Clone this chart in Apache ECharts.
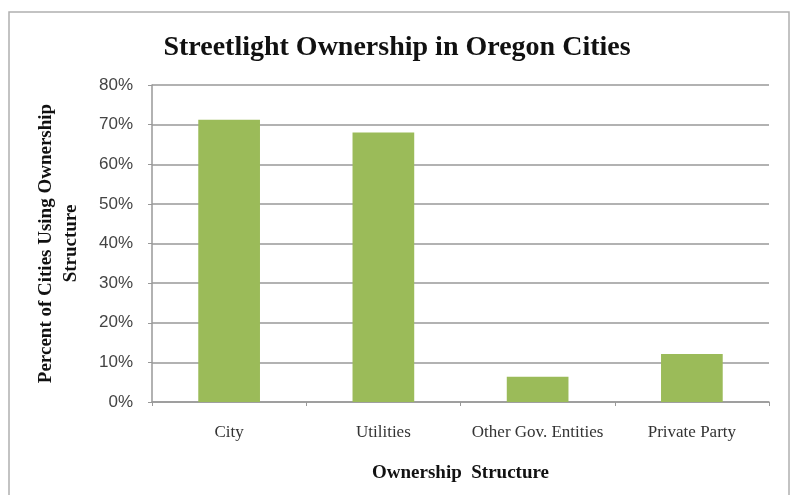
<!DOCTYPE html>
<html><head><meta charset="utf-8">
<script src="https://cdn.jsdelivr.net/npm/echarts@6/dist/echarts.min.js"></script>
<style>html,body{margin:0;padding:0;background:#fff}#c{width:794px;height:495px}</style>
</head><body><div id="c"></div>
<script>
const categories = ["City", "Utilities", "Other Gov. Entities", "Private Party"];
const values = [71.2, 68, 6.4, 12.1];
const yTicks = [0, 10, 20, 30, 40, 50, 60, 70, 80];

const chart = echarts.init(document.getElementById('c'));
chart.setOption({
  animation: false,
  backgroundColor: '#fff',
  title: {
    text: 'Streetlight Ownership in Oregon Cities',
    left: 'center', top: 29,
    textStyle: { fontFamily: 'Liberation Serif', fontWeight: 'bold', fontSize: 28, color: '#111' }
  },
  graphic: [{
    type: 'rect', shape: { x: 9, y: 12, width: 780, height: 500 },
    style: { fill: 'none', stroke: '#b0b0b0', lineWidth: 1.5 }
  }],
  grid: { left: 152, right: 25, top: 85, bottom: 93 },
  xAxis: {
    type: 'category', data: categories,
    axisLine: { lineStyle: { color: '#999', width: 1.5 } },
    axisTick: { show: true, length: 4, lineStyle: { color: '#999' } },
    axisLabel: { interval: 0, hideOverlap: false, fontFamily: 'Liberation Serif', fontSize: 17, color: '#333', margin: 22 },
    name: 'Ownership  Structure', nameLocation: 'middle', nameGap: 62,
    nameTextStyle: { fontFamily: 'Liberation Serif', fontWeight: 'bold', fontSize: 19, color: '#111' }
  },
  yAxis: {
    type: 'value', min: 0, max: 80, interval: 10,
    axisLine: { show: true, lineStyle: { color: '#999', width: 1.5 } },
    axisTick: { show: true, length: 4, lineStyle: { color: '#999' } },
    splitLine: { lineStyle: { color: '#999', width: 1.5 } },
    axisLabel: {
      fontFamily: 'Liberation Sans', fontSize: 17, color: '#444', margin: 19,
      formatter: v => yTicks.includes(v) ? v + '%' : ''
    },
    name: 'Percent of Cities Using Ownership\nStructure', nameLocation: 'middle', nameGap: 68,
    nameTextStyle: { fontFamily: 'Liberation Serif', fontWeight: 'bold', fontSize: 19, color: '#111', lineHeight: 25 }
  },
  series: [{
    type: 'bar', data: values, barWidth: '40%',
    itemStyle: { color: '#9bbb59' }
  }]
});
</script></body></html>
